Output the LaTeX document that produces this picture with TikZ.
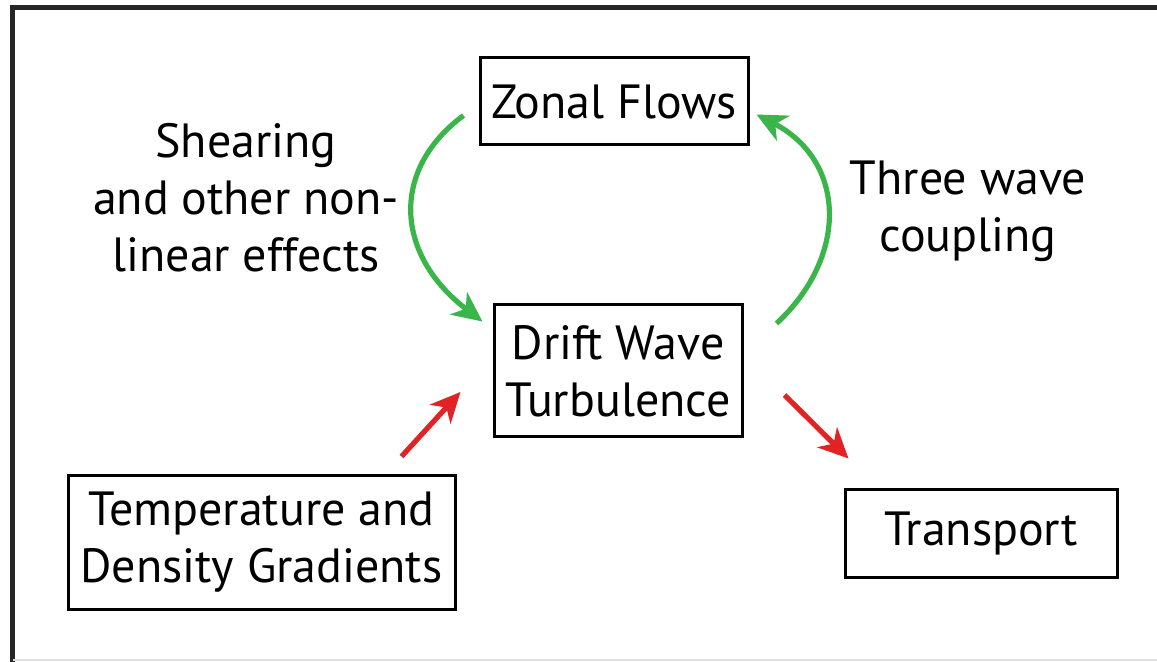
\documentclass[tikz,border=0pt]{standalone}
\usepackage{fontspec}
\setmainfont{PT Sans}
\usetikzlibrary{arrows.meta}
\definecolor{flowgreen}{RGB}{57,181,74}
\definecolor{driftred}{RGB}{226,35,38}
\tikzset{
    labelbox/.style={draw, line width=1.5pt, align=center, inner sep=0pt},
    greenarrow/.style={flowgreen, line width=2.6pt, -{Stealth[length=15pt, width=14pt, inset=4.5pt]}},
    redarrow/.style={driftred, line width=2.6pt, -{Stealth[length=15pt, width=14pt, inset=4.5pt]}}
}
\begin{document}
\begin{tikzpicture}[x=0.5pt, y=-0.5pt, font=\fontsize{24}{28.5}\selectfont]
    \useasboundingbox (0,0) rectangle (1157,662);
    % Frame
    \draw[line width=2.5pt, black!85] (12.5,662) -- (12.5,7.5) -- (1157,7.5);
    \draw[gray!25, line width=1pt] (12.5,660) -- (1157,660);
    % Boxes
    \node[labelbox, minimum width=134pt, minimum height=43.5pt] (zonal) at (614,101.5) {Zonal Flows};
    \node[labelbox, minimum width=124pt, minimum height=66pt] (drift) at (618,371) {Drift Wave\\Turbulence};
    \node[labelbox, minimum width=193.5pt, minimum height=66.5pt] (temp) at (261.5,542.5) {Temperature and\\Density Gradients};
    \node[labelbox, minimum width=136pt, minimum height=43.5pt] (transport) at (981,533.5) {Transport};
    % Side labels
    \node[align=center] (shear) at (246,198) {Shearing\\and other non-\\linear effects};
    \node[align=center] (coupling) at (968,211) {Three wave\\coupling};
    % Feedback loop
    \draw[greenarrow] ([shift={(-15,14)}]zonal.west) .. controls (390,170) and (395,255) .. ([shift={(-10,18)}]drift.north west);
    \draw[greenarrow] ([shift={(33,20)}]drift.north east) .. controls (850,255) and (845,160) .. ([shift={(7,-32)}]zonal.south east);
    % Drive and transport
    \draw[redarrow] ([shift={(-55,-18)}]temp.north east) -- ([shift={(-32,21)}]drift.west);
    \draw[redarrow] ([shift={(41,24)}]drift.east) -- ([shift={(5,-30)}]transport.north west);
\end{tikzpicture}
\end{document}
